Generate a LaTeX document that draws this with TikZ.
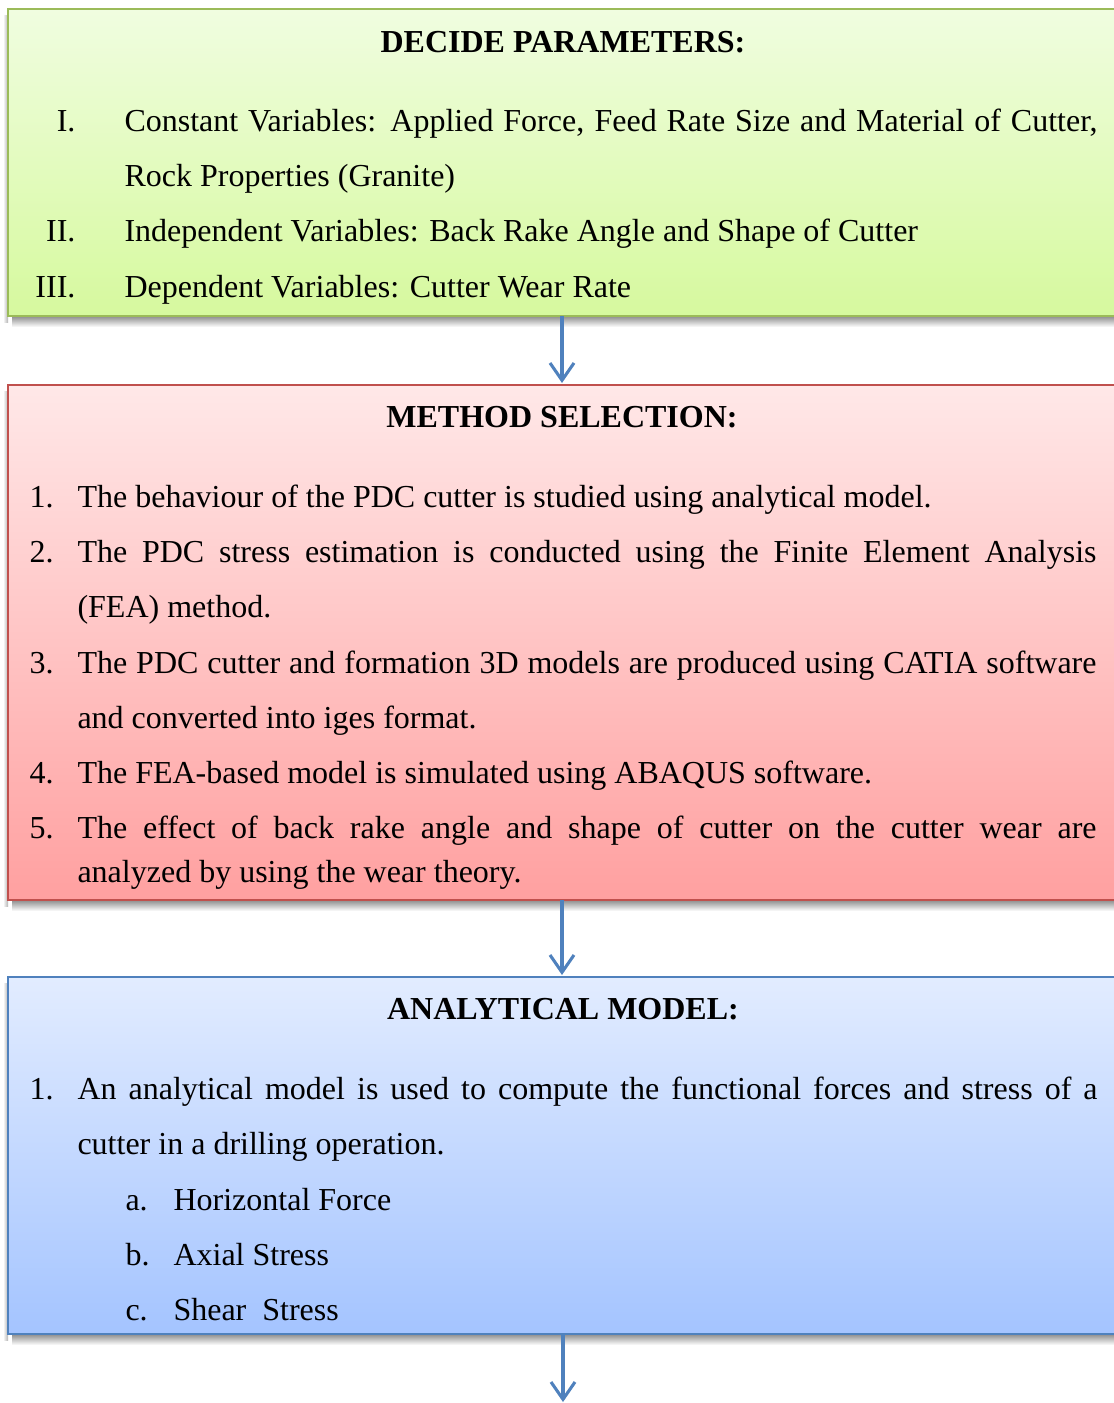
\documentclass[tikz,border=0pt]{standalone}
\usepackage{fontspec}
\setmainfont{Liberation Serif}
\usetikzlibrary{arrows.meta}
\newlength\pxu
\setlength{\pxu}{0.375pt}
\definecolor{greenTop}{RGB}{240,253,224}
\definecolor{greenBot}{RGB}{214,249,158}
\definecolor{greenLine}{RGB}{155,187,89}
\definecolor{redTop}{RGB}{255,232,232}
\definecolor{redBot}{RGB}{255,160,160}
\definecolor{redLine}{RGB}{192,80,77}
\definecolor{blueTop}{RGB}{226,236,255}
\definecolor{blueBot}{RGB}{164,196,255}
\definecolor{blueLine}{RGB}{79,129,189}
\newcommand{\jline}[2]{\makebox[#1\pxu][s]{#2}}
\begin{document}
\begin{tikzpicture}[x=0.375pt,y=-0.375pt,
  txt/.style={anchor=base west,inner sep=0pt,font=\fontsize{12}{14}\selectfont},
  num/.style={anchor=base west,inner sep=0pt,font=\fontsize{12}{14}\selectfont},
  rnum/.style={anchor=base east,inner sep=0pt,font=\fontsize{12}{14}\selectfont},
  head/.style={anchor=base,inner sep=0pt,font=\fontsize{12}{14}\selectfont\bfseries},
  flow/.style={draw=blueLine,line width=1.15pt,-{Straight Barb[length=6.5pt,width=9pt,line width=1.15pt]}}]
\useasboundingbox (0,0) rectangle (1113,1403);
\fill[white] (0,0) rectangle (1113,1403);

% soft shadows under and left of each panel
\foreach \t/\b in {9/316, 385/900, 977/1334}{
  \shade[top color=black!45,bottom color=white] (12,\b) rectangle (1125,\b+11);
  \shade[left color=white,right color=black!30] (3,\t+6) rectangle (8,\b+6);
}

% panels
\shade[top color=greenTop,bottom color=greenBot] (8,9) rectangle (1125,316);
\draw[greenLine,line width=1pt] (8,9) rectangle (1125,316);
\shade[top color=redTop,bottom color=redBot] (8,385) rectangle (1125,900);
\draw[redLine,line width=1pt] (8,385) rectangle (1125,900);
\shade[top color=blueTop,bottom color=blueBot] (8,977) rectangle (1125,1334);
\draw[blueLine,line width=1pt] (8,977) rectangle (1125,1334);

\coordinate (p1b) at (562,316);
\coordinate (p2t) at (562,383);
\coordinate (p2b) at (562,900);
\coordinate (p3t) at (562,975);
\coordinate (p3b) at (563,1334);
\coordinate (endp) at (563,1402);

% decide parameters
\node[head] (h1) at (563,52) {DECIDE PARAMETERS:};
\node[rnum] (r1) at (76,131) {I.};
\node[txt] (t11) at (124,131) {\jline{973}{Constant Variables: Applied Force, Feed Rate Size and Material of Cutter,}};
\node[txt] (t12) at (124,186) {Rock Properties (Granite)};
\node[rnum] (r2) at (76,241) {II.};
\node[txt] (t13) at (124,241) {Independent Variables: Back Rake Angle and Shape of Cutter};
\node[rnum] (r3) at (76,297) {III.};
\node[txt] (t14) at (124,297) {Dependent Variables: Cutter Wear Rate};

% method selection
\node[head] (h2) at (562,427) {METHOD SELECTION:};
\node[num] (n21) at (29,507) {1.};
\node[txt] (t21) at (77,507) {The behaviour of the PDC cutter is studied using analytical model.};
\node[num] (n22) at (29,562) {2.};
\node[txt] (t22) at (77,562) {\jline{1019}{The PDC stress estimation is conducted using the Finite Element Analysis}};
\node[txt] (t23) at (77,617) {(FEA) method.};
\node[num] (n23) at (29,673) {3.};
\node[txt] (t24) at (77,673) {\jline{1019}{The PDC cutter and formation 3D models are produced using CATIA software}};
\node[txt] (t25) at (77,728) {and converted into iges format.};
\node[num] (n24) at (29,783) {4.};
\node[txt] (t26) at (77,783) {The FEA-based model is simulated using ABAQUS software.};
\node[num] (n25) at (29,838) {5.};
\node[txt] (t27) at (77,838) {\jline{1019}{The effect of back rake angle and shape of cutter on the cutter wear are}};
\node[txt] (t28) at (77,882) {analyzed by using the wear theory.};

% analytical model
\node[head] (h3) at (563,1019) {ANALYTICAL MODEL:};
\node[num] (n31) at (29,1099) {1.};
\node[txt] (t31) at (77,1099) {\jline{1020}{An analytical model is used to compute the functional forces and stress of a}};
\node[txt] (t32) at (77,1154) {cutter in a drilling operation.};
\node[num] (a1) at (125,1210) {a.};
\node[txt] (s1) at (173,1210) {Horizontal Force};
\node[num] (a2) at (125,1265) {b.};
\node[txt] (s2) at (173,1265) {Axial Stress};
\node[num] (a3) at (125,1320) {c.};
\node[txt] (s3) at (173,1320) {Shear\ \ Stress};

% connectors
\draw[flow] (p1b) -- (p2t);
\draw[flow] (p2b) -- (p3t);
\draw[flow] (p3b) -- (endp);
\end{tikzpicture}
\end{document}
